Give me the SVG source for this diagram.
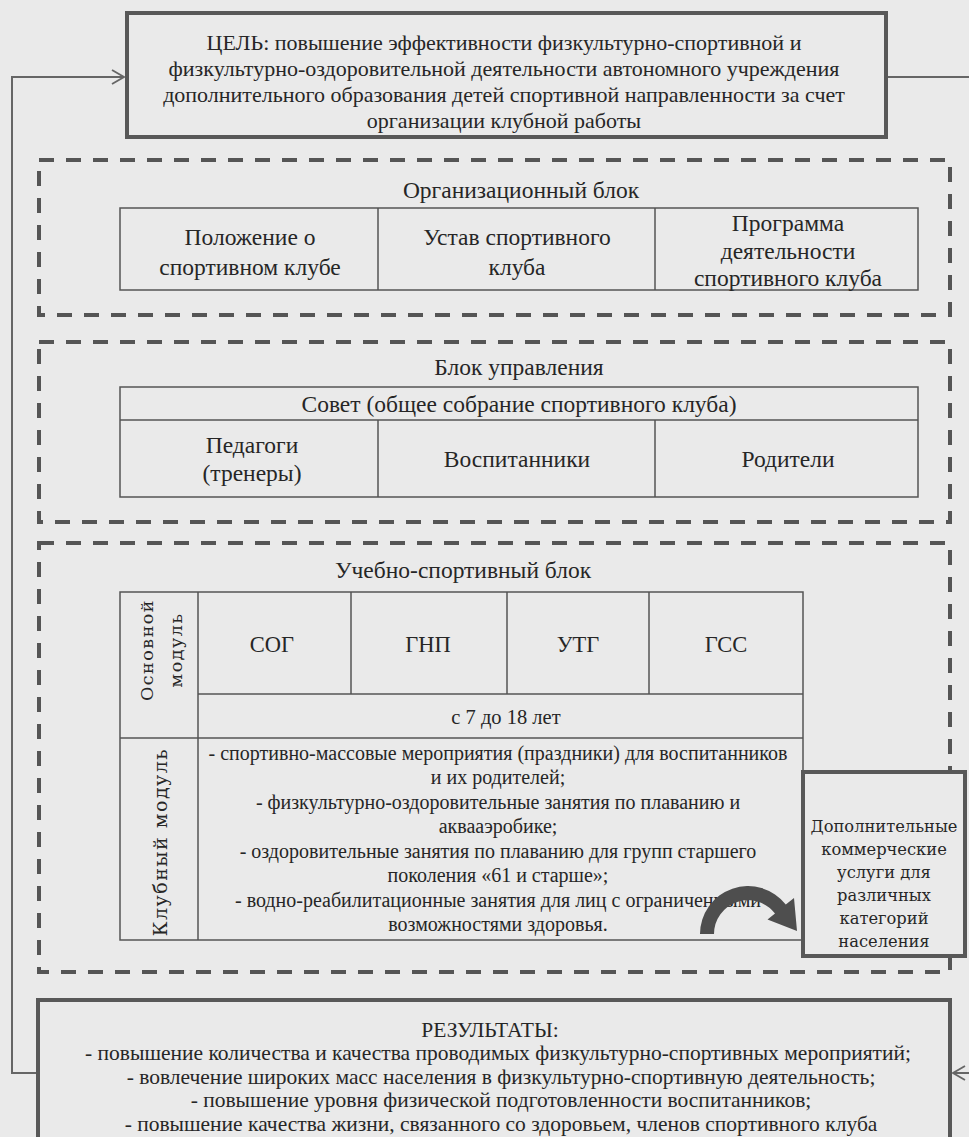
<svg xmlns="http://www.w3.org/2000/svg" width="969" height="1137" viewBox="0 0 969 1137">
<style>
.t{font-family:"Liberation Serif","Times New Roman",serif;font-size:20px;fill:#262626;text-anchor:middle}
.g{font-size:22px}
.b{font-size:23.5px}
.r{font-size:21.5px}
.v{font-family:"DejaVu Serif",serif;font-size:17.5px;fill:#262626;text-anchor:middle;letter-spacing:1.5px}
.d{font-family:"DejaVu Serif",serif;font-size:16.3px;fill:#262626;text-anchor:middle}
.thick{fill:#eaeaea;stroke:#585858;stroke-width:4}
.dash{fill:none;stroke:#555;stroke-width:4;stroke-dasharray:15 12}
.cell{fill:none;stroke:#555;stroke-width:1.5}
.conn{fill:none;stroke:#666;stroke-width:2}
</style>
<defs>
<marker id="open" markerUnits="userSpaceOnUse" markerWidth="14" markerHeight="16" viewBox="0 0 14 16" refX="13" refY="8" orient="auto">
<path d="M1,1 L13,8 L1,15" fill="none" stroke="#666" stroke-width="1.8"/>
</marker>
</defs>
<rect x="0" y="0" width="969" height="1137" fill="#eaeaea"/>

<g id="connectors">
<path class="conn" d="M38 1073 H12 V77 H124" marker-end="url(#open)"/>
<path class="conn" d="M886 77 H980 V1073 H953" marker-end="url(#open)"/>
</g>

<g id="goal">
<rect class="thick" x="127" y="13" width="759" height="124"/>
<text class="t g" x="504" y="50">ЦЕЛЬ: повышение эффективности физкультурно-спортивной и</text>
<text class="t g" x="504" y="76">физкультурно-оздоровительной деятельности автономного учреждения</text>
<text class="t g" x="504" y="102">дополнительного образования детей спортивной направленности за счет</text>
<text class="t g" x="504" y="128">организации клубной работы</text>
</g>

<g id="org-block">
<rect class="dash" x="39" y="160" width="911" height="155"/>
<text class="t b" x="521" y="198">Организационный блок</text>
<rect class="cell" x="120" y="208" width="798" height="82"/>
<line class="cell" x1="378" y1="208" x2="378" y2="290"/>
<line class="cell" x1="655" y1="208" x2="655" y2="290"/>
<text class="t b" x="250" y="245">Положение о</text>
<text class="t b" x="250" y="275">спортивном клубе</text>
<text class="t b" x="517" y="245">Устав спортивного</text>
<text class="t b" x="517" y="275">клуба</text>
<text class="t b" x="788" y="231">Программа</text>
<text class="t b" x="788" y="259">деятельности</text>
<text class="t b" x="788" y="286">спортивного клуба</text>
</g>

<g id="management-block">
<rect class="dash" x="39" y="342" width="911" height="180"/>
<text class="t b" x="519" y="375">Блок управления</text>
<rect class="cell" x="120" y="387" width="798" height="110"/>
<line class="cell" x1="120" y1="420" x2="918" y2="420"/>
<line class="cell" x1="378" y1="420" x2="378" y2="497"/>
<line class="cell" x1="655" y1="420" x2="655" y2="497"/>
<text class="t b" x="519" y="412">Совет (общее собрание спортивного клуба)</text>
<text class="t b" x="252" y="453">Педагоги</text>
<text class="t b" x="252" y="481">(тренеры)</text>
<text class="t b" x="517" y="467">Воспитанники</text>
<text class="t b" x="788" y="467">Родители</text>
</g>

<g id="training-block">
<rect class="dash" x="39" y="543" width="911" height="429"/>
<text class="t b" x="463" y="578">Учебно-спортивный блок</text>
<rect class="cell" x="120" y="592" width="683" height="348"/>
<line class="cell" x1="198" y1="592" x2="198" y2="940"/>
<line class="cell" x1="198" y1="694" x2="803" y2="694"/>
<line class="cell" x1="120" y1="738" x2="803" y2="738"/>
<line class="cell" x1="351" y1="592" x2="351" y2="694"/>
<line class="cell" x1="507" y1="592" x2="507" y2="694"/>
<line class="cell" x1="649" y1="592" x2="649" y2="694"/>
<text class="v" transform="translate(153,650) rotate(-90)">Основной</text>
<text class="v" transform="translate(182,650) rotate(-90)">модуль</text>
<text class="t" style="font-size:22.5px" x="272" y="652">СОГ</text>
<text class="t" style="font-size:22.5px" x="428" y="652">ГНП</text>
<text class="t" style="font-size:22.5px" x="578" y="652">УТГ</text>
<text class="t" style="font-size:22.5px" x="726" y="652">ГСС</text>
<text class="t" style="font-size:20.5px" x="506" y="724">с 7 до 18 лет</text>
<text class="v" style="font-size:19px" transform="translate(167,842) rotate(-90)">Клубный модуль</text>
<text class="t" x="498" y="760">- спортивно-массовые мероприятия (праздники) для воспитанников</text>
<text class="t" x="498" y="784">и их родителей;</text>
<text class="t" x="498" y="809">- физкультурно-оздоровительные занятия по плаванию и</text>
<text class="t" x="498" y="833">аквааэробике;</text>
<text class="t" x="498" y="858">- оздоровительные занятия по плаванию для групп старшего</text>
<text class="t" x="498" y="882">поколения «61 и старше»;</text>
<text class="t" x="498" y="907">- водно-реабилитационные занятия для лиц с ограниченными</text>
<text class="t" x="498" y="931">возможностями здоровья.</text>
<path d="M700 934 A48 48 0 0 1 785.8 904.5 L794 898 L797 931 L767.5 919.5 L775 913.5 A34 34 0 0 0 714 934 Z" fill="#4e4e4e"/>
</g>

<g id="extra-services">
<rect class="thick" x="803" y="772" width="162" height="184"/>
<text class="d" x="884" y="832">Дополнительные</text>
<text class="d" x="884" y="855">коммерческие</text>
<text class="d" x="884" y="878">услуги для</text>
<text class="d" x="884" y="901">различных</text>
<text class="d" x="884" y="924">категорий</text>
<text class="d" x="884" y="947">населения</text>
</g>

<g id="results">
<rect class="thick" x="38" y="1000" width="912" height="145"/>
<text class="t r" x="490" y="1037">РЕЗУЛЬТАТЫ:</text>
<text class="t r" x="498" y="1060">- повышение количества и качества проводимых физкультурно-спортивных мероприятий;</text>
<text class="t r" x="501" y="1084">- вовлечение широких масс населения в физкультурно-спортивную деятельность;</text>
<text class="t r" x="501" y="1107">- повышение уровня физической подготовленности воспитанников;</text>
<text class="t r" x="501" y="1131">- повышение качества жизни, связанного со здоровьем, членов спортивного клуба</text>
</g>
</svg>
